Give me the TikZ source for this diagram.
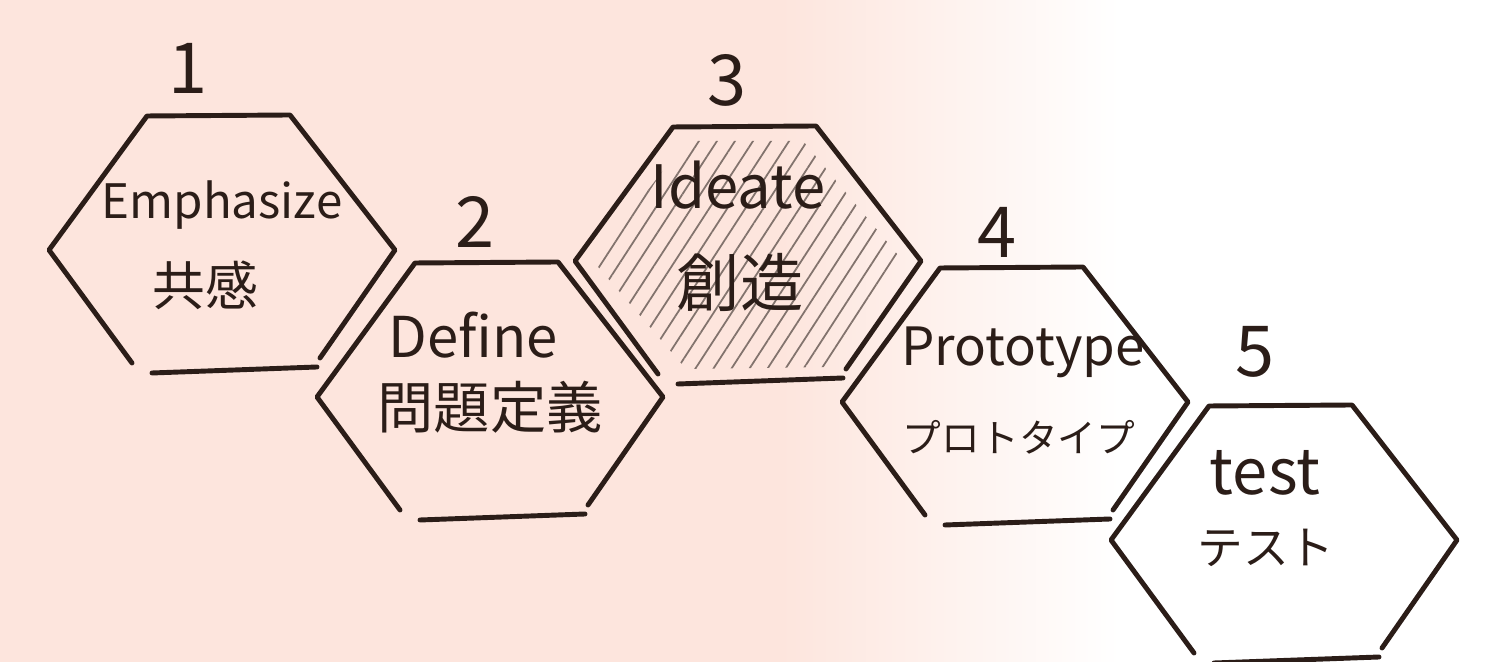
\documentclass[tikz,border=0pt]{standalone}
\usepackage{fontspec}
\newfontfamily\jpfont{Noto Sans CJK JP}
\usetikzlibrary{patterns.meta}
\definecolor{ink}{RGB}{43,29,24}
\definecolor{hatchgray}{RGB}{130,115,109}
\definecolor{bgpink}{RGB}{253,229,221}
\tikzset
{
    hexline/.style  = {draw=ink, line width=1.4pt, line cap=round, line join=round},
    hatched/.style  = {pattern={Lines[angle=57, distance=4.3pt, line width=0.5pt]}, pattern color=hatchgray},
    numlabel/.style = {font=\jpfont\fontsize{20}{24}\selectfont, text=ink, inner sep=0pt},
    txtlabel/.style = {font=\jpfont\fontsize{#1}{#1}\selectfont, text=ink, inner sep=0pt},
    txtlabel/.default = 14
}

\begin{document}
\begin{tikzpicture}[x=0.01cm, y=-0.01cm]

	 \newcommand\drawhex[1]{%
	   \draw[hexline] ([shift=({ 98, 108})]#1) -- ([shift=({ 173, 0})]#1) -- ([shift=({ 68, -135})]#1)
	     -- ([shift=({ -75, -134})]#1) -- ([shift=({ -173, 0})]#1) -- ([shift=({ -90, 113})]#1);
	   \draw[hexline] ([shift=({ -70, 123})]#1) -- ([shift=({ 95, 117})]#1);}

	 \useasboundingbox (0,0) rectangle (1498,662);
	 \fill[bgpink] (0,0) rectangle (781,662);
	 \shade[left color=bgpink, right color=white] (780,0) rectangle (1120,662);

	 \coordinate (h1) at (222, 250);
	 \coordinate (h2) at (490, 397);
	 \coordinate (h3) at (748, 261);
	 \coordinate (h4) at (1015, 402);
	 \coordinate (h5) at (1284, 540);

	 % hatching of the third cell
	 \fill[hatched] ([shift=({ -62, -120})]h3) -- ([shift=({ 55, -120})]h3) -- ([shift=({ 155, 0})]h3)
	   -- ([shift=({ 86, 106})]h3) -- ([shift=({ -62, 108})]h3) -- ([shift=({ -155, 0})]h3) -- cycle;

	 \drawhex{h1}
	 \drawhex{h2}
	 \drawhex{h3}
	 \drawhex{h4}
	 \drawhex{h5}

	 \node (n1)  [numlabel]      at ([shift=({ -34, -182})]h1) {1};
	 \node (n2)  [numlabel]      at ([shift=({ -15, -175})]h2) {2};
	 \node (n3)  [numlabel]      at ([shift=({ -21, -181})]h3) {3};
	 \node (n4)  [numlabel]      at ([shift=({ -18, -170})]h4) {4};
	 \node (n5)  [numlabel]      at ([shift=({ -29, -188})]h5) {5};

	 \node (en1) [txtlabel=13.5] at ([shift=({ 0, -45})]h1)    {Emphasize};
	 \node (jp1) [txtlabel=15]   at ([shift=({ -17, 35})]h1)   {共感};
	 \node (en2) [txtlabel=16]   at ([shift=({ -17, -62})]h2)  {Define};
	 \node (jp2) [txtlabel=16]   at ([shift=({ 0, 10})]h2)     {問題定義};
	 \node (en3) [txtlabel=17]   at ([shift=({ -10, -76})]h3)  {Ideate};
	 \node (jp3) [txtlabel=18]   at ([shift=({ -8, 21})]h3)    {創造};
	 \node (en4) [txtlabel=15]   at ([shift=({ 8, -50})]h4)    {Prototype};
	 \node (jp4) [txtlabel=11]   at ([shift=({ 4, 35})]h4)     {プロトタイプ};
	 \node (en5) [txtlabel=18]   at ([shift=({ -19, -67})]h5)  {test};
	 \node (jp5) [txtlabel=13]   at ([shift=({ -18, 8})]h5)    {テスト};

\end{tikzpicture}
\end{document}
